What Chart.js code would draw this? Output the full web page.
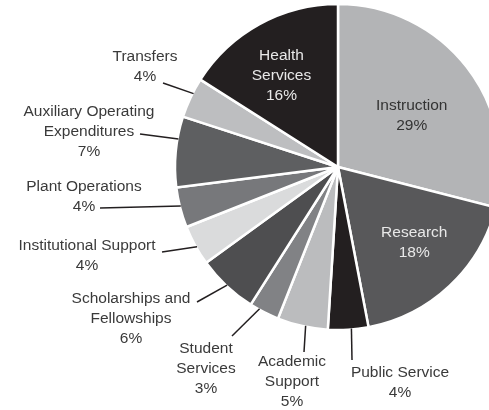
<!DOCTYPE html>
<html lang="en">
<head>
  <meta charset="UTF-8">
  <title>Expenditures by Function</title>
  <script src="https://cdn.jsdelivr.net/npm/chart.js"></script>
  <style>
    html, body {
      margin: 0;
      padding: 0;
      background: #fff;
      overflow: hidden;
    }
    canvas {
      display: block;
    }
  </style>
</head>
<body>
  <canvas id="pieChart" width="489" height="410"></canvas>

  <script>
    // Slices, clockwise from 12 o'clock
    const categories = ['Instruction', 'Research', 'Public Service', 'Academic Support', 'Student Services',
      'Scholarships and Fellowships', 'Institutional Support', 'Plant Operations',
      'Auxiliary Operating Expenditures', 'Transfers', 'Health Services'];
    const shares = [29, 18, 4, 5, 3, 6, 4, 4, 7, 4, 16];
    // How each label is broken over lines (the percentage goes on the last line)
    const labelLines = [
      ['Instruction'], ['Research'], ['Public Service'], ['Academic', 'Support'], ['Student', 'Services'],
      ['Scholarships and', 'Fellowships'], ['Institutional Support'], ['Plant Operations'],
      ['Auxiliary Operating', 'Expenditures'], ['Transfers'], ['Health', 'Services']
    ];
    const sliceColors = ['#b3b4b6', '#58585a', '#231f20', '#bbbcbe', '#818285', '#4e4e50',
      '#dadbdc', '#77787b', '#5e5f61', '#bdbec0', '#231f20'];

    // Label placement: inside labels sit at fraction t of the slice angle and r of the radius,
    // outside labels get a text spot and a leader line to the slice edge
    const labelLayout = [
      { inside: true, t: 0.53, r: 0.55, color: '#333333' },
      { inside: true, t: 0.47, r: 0.66, color: '#e8e8e8' },
      { x: 400, y: 373, lx: 352, ly: 360, t: 0.42 },
      { x: 292, y: 362, lx: 304, ly: 352, t: 0.44 },
      { x: 206, y: 349, lx: 232, ly: 336, t: 0.68 },
      { x: 131, y: 299, lx: 197, ly: 302, t: 0.5 },
      { x: 87, y: 246, lx: 162, ly: 252, t: 0.45 },
      { x: 84, y: 187, lx: 100, ly: 208, t: 0.53 },
      { x: 89, y: 112, lx: 140, ly: 134, t: 0.68 },
      { x: 145, y: 57, lx: 163, ly: 83, t: 0.62 },
      { inside: true, t: 0.45, r: 0.66, color: '#e8e8e8' }
    ];

    const lineHeight = 20;

    const sliceLabels = {
      id: 'sliceLabels',
      afterDatasetsDraw(chart) {
        const c = chart.ctx;
        const arcs = chart.getDatasetMeta(0).data;
        c.save();
        c.font = '15.5px "Liberation Sans", Arial, sans-serif';
        c.textAlign = 'center';
        c.textBaseline = 'middle';
        arcs.forEach((arc, i) => {
          const p = arc.getProps(['x', 'y', 'startAngle', 'endAngle', 'outerRadius'], true);
          const L = labelLayout[i];
          const lines = labelLines[i].slice(0, -1);
          lines.push(labelLines[i][labelLines[i].length - 1]);
          lines.push(shares[i] + '%');
          const a = p.startAngle + (p.endAngle - p.startAngle) * L.t;
          if (L.inside) {
            const r = p.outerRadius * L.r;
            const cx = p.x + Math.cos(a) * r;
            const cy = p.y + Math.sin(a) * r;
            const top = cy - (lines.length - 1) * lineHeight / 2;
            c.fillStyle = L.color;
            lines.forEach((s, k) => c.fillText(s, cx, top + k * lineHeight));
          } else {
            // leader line
            const r = p.outerRadius - 1;
            c.beginPath();
            c.moveTo(p.x + Math.cos(a) * r, p.y + Math.sin(a) * r);
            c.lineTo(L.lx, L.ly);
            c.strokeStyle = '#231f20';
            c.lineWidth = 1.5;
            c.stroke();
            c.fillStyle = '#3a3a3a';
            lines.forEach((s, k) => c.fillText(s, L.x, L.y + k * lineHeight));
          }
        });
        c.restore();
      }
    };

    const ctx = document.getElementById('pieChart').getContext('2d');
    new Chart(ctx, {
      type: 'pie',
      data: {
        labels: categories,
        datasets: [{
          data: shares,
          backgroundColor: sliceColors,
          borderColor: '#ffffff',
          borderWidth: 2.5,
          clip: false
        }]
      },
      options: {
        responsive: false,
        animation: false,
        radius: 163,
        layout: { padding: { left: 187, right: 0, top: 0, bottom: 76 } },
        plugins: {
          legend: { display: false },
          tooltip: { enabled: false }
        }
      },
      plugins: [sliceLabels]
    });
  </script>
</body>
</html>
